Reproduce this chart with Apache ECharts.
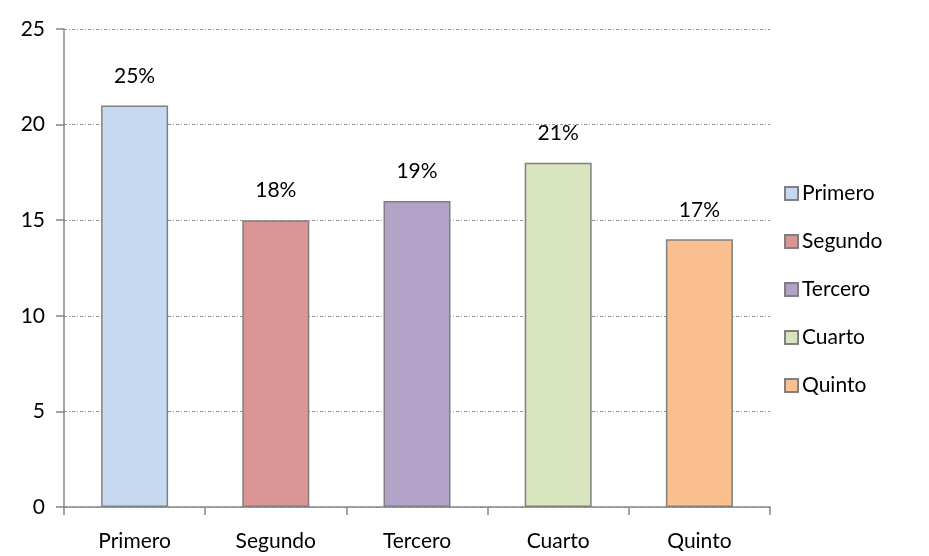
<!DOCTYPE html>
<html>
<head>
<meta charset="utf-8">
<script src="https://cdn.jsdelivr.net/npm/echarts@6/dist/echarts.min.js"></script>
<style>
  html, body { margin: 0; padding: 0; background: #fff; }
  #chart { width: 929px; height: 556px; }
</style>
</head>
<body>
<div id="chart"></div>
<script>
const categories = ['Primero', 'Segundo', 'Tercero', 'Cuarto', 'Quinto'];
const values = [21, 15, 16, 18, 14];
const percentLabels = ['25%', '18%', '19%', '21%', '17%'];
const colors = ['#C6D9F1', '#D99694', '#B3A2C7', '#D7E4BD', '#FAC090'];

const font = 'Lato, Open Sans, sans-serif';
const fontSize = 21;
const chart = echarts.init(document.getElementById('chart'));

const series = categories.map((name, i) => ({
  name: name,
  type: 'bar',
  stack: 'total',
  barWidth: 67,
  data: categories.map((c, j) => (j === i ? values[i] : '-')),
  itemStyle: { color: colors[i], borderColor: '#808080', borderWidth: 1.5 },
  label: {
    show: true,
    position: 'top',
    distance: 19,
    color: '#000',
    fontFamily: font,
    fontSize: fontSize,
    formatter: () => percentLabels[i]
  }
}));

chart.setOption({
  animation: false,
  backgroundColor: '#fff',
  textStyle: { fontFamily: font },
  grid: { left: 64, right: 159, top: 29, bottom: 49 },
  legend: {
    orient: 'vertical',
    left: 779,
    top: 178,
    icon: 'rect',
    itemWidth: 13,
    itemHeight: 13,
    itemGap: 27,
    textStyle: { fontFamily: font, fontSize: fontSize, color: '#000', padding: [0, 0, 0, -1] },
    data: categories
  },
  xAxis: {
    type: 'category',
    data: categories,
    axisLine: { lineStyle: { color: '#868686', width: 1.5 } },
    axisTick: { show: true, length: 8, lineStyle: { color: '#868686', width: 1.5 } },
    axisLabel: { color: '#000', fontFamily: font, fontSize: fontSize, margin: 24 }
  },
  yAxis: {
    type: 'value',
    min: 0,
    max: 25,
    interval: 5,
    axisLine: { show: true, lineStyle: { color: '#868686', width: 1.5 } },
    axisTick: { show: true, length: 8, lineStyle: { color: '#868686', width: 1.5 } },
    axisLabel: { color: '#000', fontFamily: font, fontSize: fontSize, margin: 19 },
    splitLine: { lineStyle: { color: '#777', width: 0.8, type: [3, 2, 1, 2] } }
  },
  series: series
});
</script>
</body>
</html>
